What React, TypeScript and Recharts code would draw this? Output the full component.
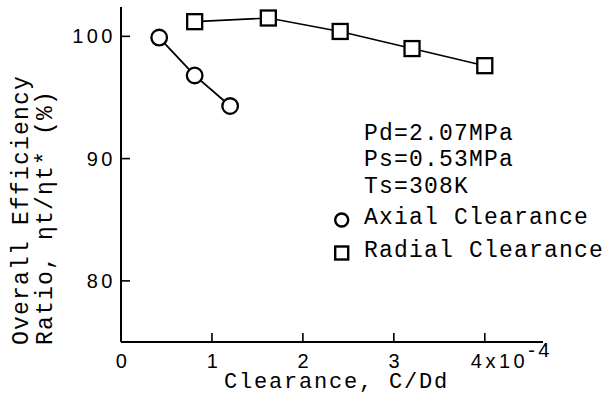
import React from "react";
import { LineChart, Line, XAxis, YAxis, Legend } from "recharts";

const axialX = [0.42, 0.81, 1.2];
const axialY = [99.9, 96.8, 94.3];
const radialX = [0.81, 1.62, 2.41, 3.2, 4.0];
const radialY = [101.2, 101.5, 100.4, 99.0, 97.6];
const xTicks = [0, 1, 2, 3, 4];
const yTicks = [80, 90, 100];
const paramLines = ["Pd=2.07MPa", "Ps=0.53MPa", "Ts=308K"];
const seriesNames = ["Axial Clearance", "Radial Clearance"];
const xLabel = "Clearance, C/Dd";
const yLabel1 = "Overall Efficiency";
const yLabel2 = "Ratio, ηt/ηt* (%)";
const xExpBase = "4x10";
const xExp = "-4";

const axialData = axialX.map((x, i) => ({ x, y: axialY[i] }));
const radialData = radialX.map((x, i) => ({ x, y: radialY[i] }));

const MONO = "'Liberation Mono', 'DejaVu Sans Mono', monospace";
const SANS = "'Liberation Sans', Arial, sans-serif";

const monoStyle = { fontFamily: MONO, fontSize: 23, letterSpacing: 1.2 } as const;
const xLabelStyle = { fontFamily: MONO, fontSize: 22, letterSpacing: 1.8 } as const;
const tickStyle = { fontFamily: SANS, fontSize: 20, letterSpacing: 3.5 } as const;

const XTick = (props: any) => {
  const { x, y, payload } = props;
  const v = payload.value;
  return (
    <g>
      <line x1={x} y1={y} x2={x} y2={y - 9} stroke="#000" strokeWidth={1.6} />
      {v === 4 ? (
        <text x={x - 14} y={y + 26} fill="#000" style={tickStyle} textAnchor="start">
          {xExpBase}
          <tspan dy={-11}>{xExp}</tspan>
        </text>
      ) : (
        <text x={x + 2} y={y + 26} fill="#000" style={tickStyle} textAnchor="middle">
          {v}
        </text>
      )}
    </g>
  );
};

const YTick = (props: any) => {
  const { x, y, payload } = props;
  return (
    <g>
      <line x1={x} y1={y} x2={x + 9} y2={y} stroke="#000" strokeWidth={1.6} />
      <text x={x - 5} y={y + 7} fill="#000" style={tickStyle} textAnchor="end">
        {payload.value}
      </text>
    </g>
  );
};

const XLabelContent = () => (
  <text x={224} y={388} fill="#000" style={xLabelStyle} textAnchor="start">
    {xLabel}
  </text>
);

const YLabelContent = () => (
  <g>
    <text
      x={28}
      y={345}
      transform="rotate(-90 28 345)"
      fill="#000"
      style={monoStyle}
      textAnchor="start"
    >
      {yLabel1}
    </text>
    <text
      x={52}
      y={345}
      transform="rotate(-90 52 345)"
      fill="#000"
      style={monoStyle}
      textAnchor="start"
    >
      {yLabel2}
    </text>
  </g>
);

const LegendContent = () => (
  <svg width={278} height={145} style={{ display: "block", overflow: "visible" }}>
    {paramLines.map((t, i) => (
      <text key={t} x={34} y={19.5 + i * 26.7} fill="#000" style={monoStyle}>
        {t}
      </text>
    ))}
    <circle cx={11.7} cy={100} r={6.5} fill="#fff" stroke="#000" strokeWidth={2.4} />
    <text x={34} y={104} fill="#000" style={monoStyle}>
      {seriesNames[0]}
    </text>
    <rect x={5.2} y={126.5} width={13} height={13} fill="#fff" stroke="#000" strokeWidth={2.4} />
    <text x={34} y={136.7} fill="#000" style={monoStyle}>
      {seriesNames[1]}
    </text>
  </svg>
);

const SquareDot = (props: any) => {
  const { cx, cy, index } = props;
  if (cx == null || cy == null) return <g key={`sq-${index}`} />;
  return (
    <rect
      key={`sq-${index}`}
      x={cx - 7.5}
      y={cy - 7.5}
      width={15}
      height={15}
      fill="#fff"
      stroke="#000"
      strokeWidth={2.3}
    />
  );
};

const CircleDot = (props: any) => {
  const { cx, cy, index } = props;
  if (cx == null || cy == null) return <g key={`ci-${index}`} />;
  return (
    <circle key={`ci-${index}`} cx={cx} cy={cy} r={7.8} fill="#fff" stroke="#000" strokeWidth={2.3} />
  );
};

export default function App() {
  return (
    <div style={{ position: "absolute", left: 0, top: 0, width: 608, height: 406, background: "#fff" }}>
      <LineChart
        width={608}
        height={406}
        margin={{ top: 7, right: 65, bottom: 63, left: 120 }}
      >
        <XAxis
          type="number"
          dataKey="x"
          domain={[0, 4.64]}
          ticks={xTicks}
          height={1}
          tickSize={0}
          tickMargin={0}
          tickLine={false}
          axisLine={{ stroke: "#000", strokeWidth: 2 }}
          tick={<XTick />}
          interval={0}
          allowDataOverflow
          label={<XLabelContent />}
        />
        <YAxis
          type="number"
          dataKey="y"
          domain={[75, 102.4]}
          ticks={yTicks}
          width={1}
          tickSize={0}
          tickMargin={0}
          tickLine={false}
          axisLine={{ stroke: "#000", strokeWidth: 2 }}
          tick={<YTick />}
          interval={0}
          allowDataOverflow
          label={<YLabelContent />}
        />
        <Legend
          layout="vertical"
          align="center"
          verticalAlign="middle"
          content={<LegendContent />}
          wrapperStyle={{ position: "absolute", left: 330, top: 120, width: 278, height: 145 }}
        />
        <Line
          data={radialData}
          dataKey="y"
          name={seriesNames[1]}
          stroke="#000"
          strokeWidth={1.6}
          dot={SquareDot}
          activeDot={false}
          isAnimationActive={false}
        />
        <Line
          data={axialData}
          dataKey="y"
          name={seriesNames[0]}
          stroke="#000"
          strokeWidth={1.8}
          dot={CircleDot}
          activeDot={false}
          isAnimationActive={false}
        />
      </LineChart>
    </div>
  );
}
